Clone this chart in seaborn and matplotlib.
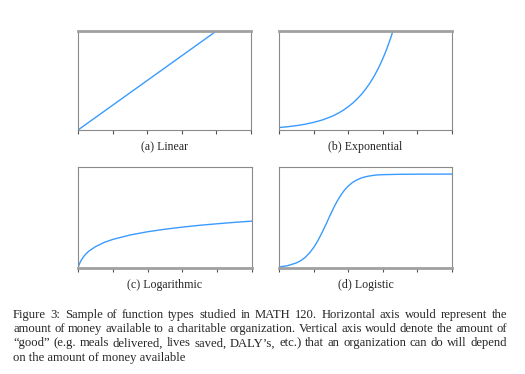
import matplotlib
matplotlib.use("Agg")
import matplotlib.pyplot as plt
import seaborn as sns

# ------------------------------------------------------------
# Data (x in tick units 0..5, y in 0..1)
# ------------------------------------------------------------
lin_x = [0, 1, 2, 3, 4]
lin_y = [0.0, 0.25, 0.5, 0.75, 1.0]

exp_x = [0, 0.25, 0.5, 0.75, 1.0, 1.25, 1.5, 1.625, 1.75, 1.875, 2.0, 2.125, 2.25,
         2.375, 2.5, 2.625, 2.75, 2.875, 3.0, 3.125, 3.25, 3.375, 3.5]
exp_y = [0.025, 0.033, 0.044, 0.058, 0.077, 0.101, 0.134, 0.154, 0.177, 0.204,
         0.235, 0.270, 0.311, 0.357, 0.411, 0.473, 0.544, 0.626, 0.720, 0.828,
         0.952, 1.096, 1.26]

log_x = [0, 0.02, 0.05, 0.1, 0.2, 0.3, 0.5, 0.75, 1.0, 1.5, 2.0, 2.5, 3.0, 3.5, 4.0, 4.5, 5.0]
log_y = [0.0, 0.022, 0.048, 0.082, 0.130, 0.164, 0.211, 0.253, 0.283, 0.327,
         0.359, 0.384, 0.405, 0.423, 0.438, 0.452, 0.464]

lgt_x = [0, 0.25, 0.5, 0.625, 0.75, 0.875, 1.0, 1.0625, 1.125, 1.1875, 1.25, 1.3125,
         1.375, 1.4375, 1.5, 1.5625, 1.625, 1.6875, 1.75, 1.8125, 1.875, 1.9375,
         2.0, 2.125, 2.25, 2.375, 2.5, 2.625, 2.75, 2.875, 3.0, 3.5, 4.0, 5.0]
lgt_y = [0.010, 0.023, 0.050, 0.072, 0.103, 0.146, 0.202, 0.236, 0.272, 0.313,
         0.355, 0.400, 0.444, 0.493, 0.539, 0.583, 0.626, 0.665, 0.701, 0.734,
         0.763, 0.789, 0.811, 0.847, 0.872, 0.891, 0.903, 0.912, 0.918, 0.922,
         0.924, 0.928, 0.929, 0.930]

panel_titles = ['(a) Linear', '(b) Exponential', '(c) Logarithmic', '(d) Logistic']

caption_lines = [
    'Figure 3:  Sample of function types studied in MATH 120.  Horizontal axis would represent the',
    'amount of money available to a charitable organization. Vertical axis would denote the amount of',
    '\u201cgood\u201d (e.g. meals delivered, lives saved, DALY\u2019s, etc.)  that an organization can do will depend',
    'on the amount of money available',
]

# ------------------------------------------------------------
sns.set_style("white")
plt.rcParams['font.family'] = ['Liberation Serif', 'DejaVu Serif']

W, H = 525, 374
fig = plt.figure(figsize=(W / 100, H / 100), dpi=100)

# axes boxes in pixels: left, top, right, bottom
boxes = [(78, 31, 251, 130), (279, 31, 452, 130),
         (78, 167, 252, 268), (279, 167, 452, 268)]
title_y = [150, 150, 288, 288]
curves = [(lin_x, lin_y), (exp_x, exp_y), (log_x, log_y), (lgt_x, lgt_y)]
line_color = '#3a9bff'

for i, ((l, t, r, b), (xs, ys)) in enumerate(zip(boxes, curves)):
    ax = fig.add_axes([l / W, 1 - b / H, (r - l) / W, (b - t) / H])
    sns.lineplot(x=xs, y=ys, ax=ax, color=line_color, linewidth=1.0)
    ax.set_xlim(0, 5)
    ax.set_ylim(0, 1)
    ax.set_xticks(range(6))
    ax.set_xticklabels([])
    ax.set_yticks([])
    ax.tick_params(axis='x', bottom=True, direction='out', length=3,
                   width=0.8, color='#555555')
    for s in ax.spines.values():
        s.set_color('#8a8a8a')
        s.set_linewidth(0.8)
    # the top row has a heavy top edge, the bottom row a heavy base
    heavy = 'top' if i < 2 else 'bottom'
    ax.spines[heavy].set_linewidth(2.0)
    ax.spines[heavy].set_color('#a0a0a0')
    fig.text((l + r) / 2 / W, 1 - title_y[i] / H, panel_titles[i],
             ha='center', va='baseline', fontsize=8.6)

# ------------------------------------------------------------
# caption, justified like the LaTeX original
# ------------------------------------------------------------
cap_size = 9.1
cap_left, cap_right = 13, 507
cap_base = [318, 332, 346.3, 360.5]
fig.canvas.draw()
renderer = fig.canvas.get_renderer()
for k, line in enumerate(caption_lines):
    y = 1 - cap_base[k] / H
    if k == len(caption_lines) - 1:
        fig.text(cap_left / W, y, line, ha='left', va='baseline', fontsize=cap_size)
        continue
    words = line.split()
    texts = [fig.text(0, y, w, ha='left', va='baseline', fontsize=cap_size) for w in words]
    widths = [t.get_window_extent(renderer).width for t in texts]
    gap = (cap_right - cap_left - sum(widths)) / (len(words) - 1)
    x = cap_left
    for t, w in zip(texts, widths):
        t.set_x(x / W)
        x += w + gap

fig.savefig('out.png', dpi=100)
